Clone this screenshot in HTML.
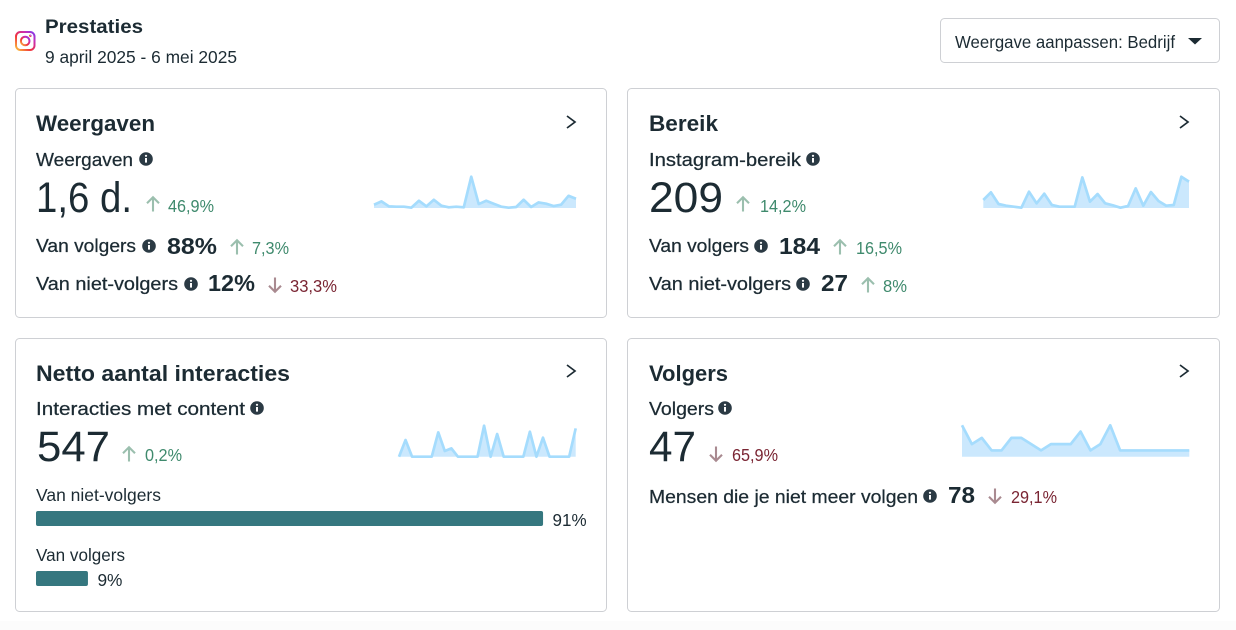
<!DOCTYPE html>
<html lang="nl">
<head>
<meta charset="utf-8">
<title>Prestaties</title>
<style>
html,body{margin:0;padding:0;background:#fff;width:1236px;height:630px;overflow:hidden}
svg{display:block}
text{font-family:"Liberation Sans",sans-serif;fill:#1c2b33;font-size:18px}
.b{font-weight:700;font-size:19px}
.r16{font-size:17.500px}
.m{font-size:18.500px;stroke:#1c2b33;stroke-width:.25px}
.t{font-size:22.500px;font-weight:700}
.big{font-size:43px}
.v{font-size:23px;font-weight:700}
.up{font-size:17.500px;fill:#3f8a6d}
.dn{font-size:17.500px;fill:#7a2533}
.card{fill:#fff;stroke:#ced0d4;stroke-width:1}
.chev{fill:none;stroke:#1c2b33;stroke-width:1.700}
.au{fill:none;stroke:#9bbfae;stroke-width:2.100}
.ad{fill:none;stroke:#a98a90;stroke-width:2.100}
.ii{fill:#fff}
.ic{fill:#2b3a44}
</style>
</head>
<body>
<svg id="root" width="1236" height="630" viewBox="0 0 1236 630" xmlns="http://www.w3.org/2000/svg">
<defs>
<linearGradient id="ig" x1="0" y1="1" x2="1" y2="0">
<stop offset="0" stop-color="#fdc33a"/><stop offset=".4" stop-color="#f0313f"/><stop offset=".75" stop-color="#c72fb5"/><stop offset="1" stop-color="#7c3bf0"/>
</linearGradient>
<symbol id="info" viewBox="-7 -7 14 14" overflow="visible">
<circle class="ic" r="6.8"/><rect class="ii" x="-1" y="-1" width="2" height="4.6"/><circle class="ii" cy="-3.2" r="1.1"/>
</symbol>
<symbol id="arrow-up" viewBox="-8 -8 16 16" overflow="visible">
<path class="au" d="M0 7.5V-6.5M-6 -.8L0 -6.8L6 -.8"/>
</symbol>
<symbol id="arrow-down" viewBox="-8 -8 16 16" overflow="visible">
<path class="ad" d="M0 -7.5V6.5M-6 .8L0 6.8L6 .8"/>
</symbol>
</defs>
<rect x="0" y="621" width="1236" height="9" fill="#fcfcfc"/>

<g fill="none" stroke="url(#ig)">
<rect x="16" y="32" width="18.500" height="18" rx="4.500" stroke-width="2"/>
<circle cx="25.200" cy="41" r="4.300" stroke-width="2"/>
<circle cx="30.300" cy="35.800" r=".8" stroke-width="1"/>
</g>
<text x="45" y="33" class="b" textLength="98" lengthAdjust="spacingAndGlyphs">Prestaties</text>
<text x="45" y="63" class="r16" textLength="192" lengthAdjust="spacingAndGlyphs">9 april 2025 - 6 mei 2025</text>

<g>
<rect x="940.500" y="18.500" width="279" height="44" rx="4" class="card"/>
<text x="955" y="48" class="r16" textLength="220" lengthAdjust="spacingAndGlyphs">Weergave aanpassen: Bedrijf</text>
<path d="M1188 38H1202L1195 44.500Z" fill="#1c2b33"/>
</g>

<g>
<rect x="15.500" y="88.500" width="591" height="229" rx="4" class="card"/>
<text x="36" y="131" class="t" textLength="119" lengthAdjust="spacingAndGlyphs">Weergaven</text>
<path d="M567 116L575 122L567 128" class="chev"/>
<text x="36" y="166" class="m" textLength="97" lengthAdjust="spacingAndGlyphs">Weergaven</text>
<use href="#info" x="139" y="152" width="14" height="14"/>
<text x="36" y="212" class="big" textLength="96" lengthAdjust="spacingAndGlyphs">1,6 d.</text>
<use href="#arrow-up" x="145" y="196" width="16" height="16"/>
<text x="168" y="212" class="up" textLength="46" lengthAdjust="spacingAndGlyphs">46,9%</text>
<text x="36" y="252" class="m" textLength="100" lengthAdjust="spacingAndGlyphs">Van volgers</text>
<use href="#info" x="142" y="239" width="14" height="14"/>
<text x="167" y="254" class="v" textLength="50" lengthAdjust="spacingAndGlyphs">88%</text>
<use href="#arrow-up" x="229" y="239" width="16" height="16"/>
<text x="252" y="254" class="up" textLength="37" lengthAdjust="spacingAndGlyphs">7,3%</text>
<text x="36" y="290" class="m" textLength="142" lengthAdjust="spacingAndGlyphs">Van niet-volgers</text>
<use href="#info" x="184" y="277" width="14" height="14"/>
<text x="208" y="291" class="v" textLength="47" lengthAdjust="spacingAndGlyphs">12%</text>
<use href="#arrow-down" x="267" y="277" width="16" height="16"/>
<text x="290" y="292" class="dn" textLength="47" lengthAdjust="spacingAndGlyphs">33,3%</text>
</g>

<g>
<rect x="627.500" y="88.500" width="592" height="229" rx="4" class="card"/>
<text x="649" y="131" class="t" textLength="69" lengthAdjust="spacingAndGlyphs">Bereik</text>
<path d="M1180 116L1188 122L1180 128" class="chev"/>
<text x="649" y="166" class="m" textLength="152" lengthAdjust="spacingAndGlyphs">Instagram-bereik</text>
<use href="#info" x="806" y="152" width="14" height="14"/>
<text x="649" y="212" class="big" textLength="74" lengthAdjust="spacingAndGlyphs">209</text>
<use href="#arrow-up" x="735" y="196" width="16" height="16"/>
<text x="760" y="212" class="up" textLength="46" lengthAdjust="spacingAndGlyphs">14,2%</text>
<text x="649" y="252" class="m" textLength="100" lengthAdjust="spacingAndGlyphs">Van volgers</text>
<use href="#info" x="754" y="239" width="14" height="14"/>
<text x="779" y="254" class="v" textLength="41" lengthAdjust="spacingAndGlyphs">184</text>
<use href="#arrow-up" x="832" y="239" width="16" height="16"/>
<text x="856" y="254" class="up" textLength="46" lengthAdjust="spacingAndGlyphs">16,5%</text>
<text x="649" y="290" class="m" textLength="142" lengthAdjust="spacingAndGlyphs">Van niet-volgers</text>
<use href="#info" x="796" y="277" width="14" height="14"/>
<text x="821" y="291" class="v" textLength="27" lengthAdjust="spacingAndGlyphs">27</text>
<use href="#arrow-up" x="860" y="277" width="16" height="16"/>
<text x="883" y="292" class="up" textLength="24" lengthAdjust="spacingAndGlyphs">8%</text>
</g>

<g>
<rect x="15.500" y="338.500" width="591" height="273" rx="4" class="card"/>
<text x="36" y="381" class="t" textLength="254" lengthAdjust="spacingAndGlyphs">Netto aantal interacties</text>
<path d="M567 365L575 371L567 377" class="chev"/>
<text x="36" y="415" class="m" textLength="209" lengthAdjust="spacingAndGlyphs">Interacties met content</text>
<use href="#info" x="250" y="401" width="14" height="14"/>
<text x="37" y="461" class="big" textLength="73" lengthAdjust="spacingAndGlyphs">547</text>
<use href="#arrow-up" x="121" y="446" width="16" height="16"/>
<text x="145" y="461" class="up" textLength="37" lengthAdjust="spacingAndGlyphs">0,2%</text>
</g>

<g>
<rect x="627.500" y="338.500" width="592" height="273" rx="4" class="card"/>
<text x="649" y="381" class="t" textLength="79" lengthAdjust="spacingAndGlyphs">Volgers</text>
<path d="M1180 365L1188 371L1180 377" class="chev"/>
<text x="649" y="415" class="m" textLength="65" lengthAdjust="spacingAndGlyphs">Volgers</text>
<use href="#info" x="718" y="401" width="14" height="14"/>
<text x="649" y="461" class="big" textLength="47" lengthAdjust="spacingAndGlyphs">47</text>
<use href="#arrow-down" x="708" y="446" width="16" height="16"/>
<text x="732" y="461" class="dn" textLength="46" lengthAdjust="spacingAndGlyphs">65,9%</text>
<text x="649" y="503" class="m" textLength="269" lengthAdjust="spacingAndGlyphs">Mensen die je niet meer volgen</text>
<use href="#info" x="923" y="489" width="14" height="14"/>
<text x="948" y="503" class="v" textLength="27" lengthAdjust="spacingAndGlyphs">78</text>
<use href="#arrow-down" x="987" y="488" width="16" height="16"/>
<text x="1011" y="503" class="dn" textLength="46" lengthAdjust="spacingAndGlyphs">29,1%</text>
</g>

<g id="sparks"></g>
<g id="bars"></g>
</svg>

<script>
var viewsSeries = [10,20,5,4,4,1,22,5,25,7,2,4,2,95,12,22,13,4,1,3,25,3,17,13,6,10,37,28];
var reachSeries = [24,47,12,7,4,1,49,14,43,9,4,4,4,92,19,42,14,8,1,6,59,7,48,21,7,9,94,79];
var interactionSeries = [0,50,0,0,0,0,73,17,25,0,0,0,0,93,0,68,0,0,0,0,75,0,57,0,0,0,0,85];
var followerSeries = [5,2,3,1,1,3,3,2,1,2,2,2,4,1,2,5,1,1,1,1,1,1,1,1];
var shareCategories = ['Van niet-volgers','Van volgers'];
var shareValues = [91,9];

var NS = 'http://www.w3.org/2000/svg';

function makeEl(tag, parent) {
  var el = document.createElementNS(NS, tag);
  parent.appendChild(el);
  return el;
}

function drawSpark(name, values, left, right, base, top) {
  var group = document.getElementById('sparks');
  var maxV = Math.max.apply(null, values);
  function xScale(i) { return left + (right - left) * i / (values.length - 1); }
  function yScale(v) { return base - (base - top) * v / maxV; }
  var pts = values.map(function (v, i) {
    return xScale(i).toFixed(2) + ' ' + yScale(v).toFixed(2);
  });
  var area = makeEl('path', group);
  
  
  area.setAttribute('d', 'M' + left + ' ' + base + 'L' + pts.join('L') + 'L' + right + ' ' + base + 'Z');
  area.setAttribute('fill', '#cbe8fd');
  var line = makeEl('path', group);
  
  
  line.setAttribute('d', 'M' + pts.join('L'));
  line.setAttribute('fill', 'none');
  line.setAttribute('stroke', '#a5dcfd');
  line.setAttribute('stroke-width', '2.7');
  line.setAttribute('stroke-linejoin', 'round');
}

drawSpark('views', viewsSeries, 374, 576, 208, 176.7);
drawSpark('reach', reachSeries, 983.3, 1189, 208, 176.7);
drawSpark('interactions', interactionSeries, 399, 575.7, 456.7, 425.7);
drawSpark('followers', followerSeries, 962, 1189.3, 456.7, 425.3);

var barLeft = 36;
var barPxPerPercent = 5.55;
var barMinWidth = 2;
function barWidth(v) { return barMinWidth + v * barPxPerPercent; }
var barTops = { first: 511, second: 571 };
var barsGroup = document.getElementById('bars');

shareCategories.forEach(function (cat, i) {
  var top = i === 0 ? barTops.first : barTops.second;
  var label = makeEl('text', barsGroup);
  
  
  label.setAttribute('x', barLeft);
  label.setAttribute('y', top - 10);
  label.setAttribute('class', 'r16');
  label.setAttribute('textLength', i === 0 ? 125 : 89);
  label.setAttribute('lengthAdjust', 'spacingAndGlyphs');
  label.textContent = cat;
  var bar = makeEl('rect', barsGroup);
  
  
  bar.setAttribute('x', barLeft);
  bar.setAttribute('y', top);
  bar.setAttribute('width', barWidth(shareValues[i]));
  bar.setAttribute('height', 15);
  bar.setAttribute('rx', 2);
  bar.setAttribute('fill', '#35777f');
  var val = makeEl('text', barsGroup);
  
  
  val.setAttribute('x', barLeft + barWidth(shareValues[i]) + 9.500);
  val.setAttribute('y', top + 15);
  val.setAttribute('class', 'r16');
  val.setAttribute('textLength', i === 0 ? 34 : 25);
  val.setAttribute('lengthAdjust', 'spacingAndGlyphs');
  val.textContent = shareValues[i] + '%';
});
</script>
</body>
</html>
